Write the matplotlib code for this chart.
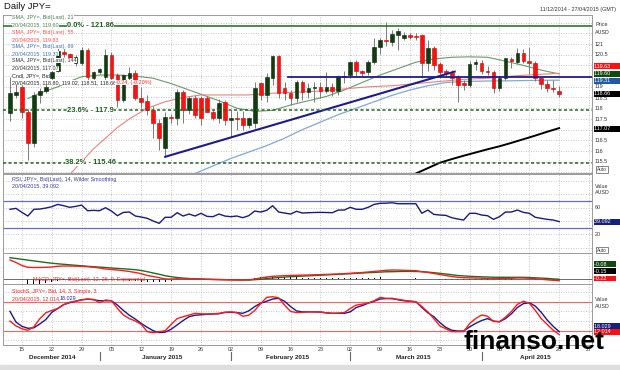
import numpy as np
import matplotlib.pyplot as plt
import matplotlib.transforms as mtransforms

plt.rcParams['font.family'] = ['Liberation Sans', 'DejaVu Sans']

# ---- daily JPY= candles, 11/12/2014 .. 20/04/2015 (weekdays) ----
opens = [117.76, 118.62, 119.00, 117.84, 116.36, 118.62, 118.80, 119.40, 119.75, 120.64,
         120.52, 120.10, 120.10, 120.72, 119.43, 119.71, 119.47, 120.49, 119.55, 118.38,
         119.40, 119.66, 118.46, 118.34, 117.92, 117.30, 116.13, 117.60, 117.55, 118.77,
         117.92, 118.49, 118.49, 118.46, 117.84, 117.53, 118.30, 117.45, 117.55, 117.53,
         117.21, 117.30, 119.16, 118.62, 119.40, 120.45, 118.93, 118.69, 118.46, 119.24,
         118.77, 118.93, 119.01, 118.80, 119.01, 118.80, 119.44, 119.55, 120.14, 119.74,
         119.68, 120.14, 120.88, 121.19, 121.11, 121.40, 121.28, 121.40, 121.38, 121.40,
         120.10, 120.80, 120.05, 119.74, 119.63, 119.44, 119.16, 119.08, 120.05, 120.10,
         119.74, 119.68, 118.93, 119.40, 120.30, 120.14, 120.60, 120.19, 120.10, 119.40,
         119.15, 118.95, 118.80]
highs = [119.47, 119.16, 119.08, 117.95, 118.74, 118.93, 119.32, 119.90, 120.80, 120.80,
         120.60, 120.50, 120.88, 120.80, 119.75, 119.90, 120.77, 120.62, 119.65, 119.60,
         119.94, 119.80, 119.00, 118.60, 118.10, 117.50, 117.80, 117.75, 118.90, 118.85,
         118.55, 118.60, 118.55, 118.55, 117.90, 118.42, 118.40, 117.90, 117.85, 117.85,
         117.60, 119.24, 119.24, 119.65, 120.49, 120.49, 119.24, 118.85, 119.32, 119.32,
         119.16, 119.24, 119.24, 119.70, 119.20, 119.55, 119.75, 120.20, 120.25, 119.78,
         120.25, 121.26, 121.30, 122.03, 121.65, 121.75, 121.55, 121.52, 121.50, 121.45,
         121.20, 120.90, 120.15, 119.85, 119.80, 119.55, 119.30, 120.20, 120.30, 120.25,
         119.95, 119.80, 119.50, 120.35, 120.40, 120.80, 120.75, 120.85, 120.20, 119.50,
         119.30, 119.30, 119.02]
lows = [117.40, 118.46, 117.53, 115.58, 116.20, 118.23, 118.69, 119.25, 119.70, 120.40,
        120.25, 119.95, 120.00, 119.24, 119.20, 119.60, 119.25, 119.15, 118.07, 118.30,
        119.30, 118.40, 118.00, 117.70, 116.60, 116.05, 115.73, 117.30, 117.20, 117.30,
        117.75, 117.55, 117.20, 117.80, 117.45, 117.29, 117.20, 116.67, 117.00, 116.98,
        117.06, 117.06, 118.38, 118.31, 119.08, 118.46, 118.38, 118.15, 118.31, 118.38,
        118.46, 118.31, 118.46, 118.69, 118.55, 118.62, 119.16, 119.40, 119.50, 119.50,
        119.55, 120.05, 120.55, 120.90, 120.90, 120.70, 121.20, 121.25, 121.20, 119.40,
        119.75, 119.80, 119.40, 119.50, 119.08, 118.27, 118.85, 119.00, 119.80, 119.60,
        119.55, 118.69, 118.80, 119.30, 119.90, 120.05, 120.10, 119.60, 119.25, 118.90,
        118.75, 118.75, 118.51]
closes = [118.69, 118.77, 117.84, 116.36, 118.62, 118.80, 119.01, 119.71, 120.67, 120.52,
          120.36, 120.41, 120.72, 119.47, 119.68, 119.82, 120.49, 119.43, 118.38, 119.55,
          119.63, 118.49, 118.27, 117.92, 117.30, 116.60, 117.60, 117.55, 118.77, 117.92,
          118.46, 117.68, 117.53, 117.84, 117.53, 118.23, 117.45, 117.53, 117.50, 117.21,
          117.53, 118.96, 118.62, 119.44, 120.45, 118.69, 118.69, 118.46, 119.24, 118.77,
          118.93, 119.01, 118.80, 119.01, 118.80, 119.44, 119.52, 120.14, 119.74, 119.63,
          120.14, 120.88, 121.19, 121.15, 121.45, 121.62, 121.42, 121.35, 121.33, 120.10,
          120.80, 120.03, 119.70, 119.63, 119.40, 119.10, 119.08, 120.05, 120.14, 119.74,
          119.68, 118.93, 119.40, 120.33, 120.19, 120.60, 120.19, 120.10, 119.40, 119.12,
          118.93, 118.88, 118.66]

# moving averages (day index, value)
sma21_x = [3, 5, 8, 10, 12, 15, 18, 21, 24, 27, 30, 32, 35, 38, 41, 44, 47, 50, 53, 56,
           59, 62, 65, 68, 71, 74, 77, 80, 83, 86, 89, 92]
sma21_y = [118.45, 118.70, 119.00, 119.25, 119.47, 119.55, 119.55, 119.50, 119.40, 119.15,
           118.85, 118.65, 118.35, 118.00, 117.85, 117.90, 118.15, 118.35, 118.55, 118.85,
           119.20, 119.55, 119.85, 120.15, 120.30, 120.38, 120.40, 120.38, 120.20, 120.00,
           119.78, 119.60]
sma55_x = [10, 12, 14, 16, 18, 20, 23, 26, 29, 32, 36, 40, 44, 48, 52, 56, 60, 64, 68, 72,
           76, 80, 84, 88, 92]
sma55_y = [114.90, 115.50, 116.10, 116.60, 117.10, 117.50, 118.00, 118.30, 118.50, 118.62,
           118.62, 118.62, 118.70, 118.75, 118.80, 118.90, 119.00, 119.05, 119.15, 119.25,
           119.35, 119.40, 119.50, 119.57, 119.63]
sma89_x = [31, 34, 37, 40, 43, 46, 49, 52, 55, 58, 61, 64, 67, 70, 73, 76, 80, 84, 88, 92]
sma89_y = [114.95, 115.30, 115.65, 115.95, 116.25, 116.60, 117.00, 117.35, 117.70, 118.00,
           118.30, 118.60, 118.85, 119.05, 119.20, 119.25, 119.27, 119.28, 119.30, 119.31]
sma144_x = [68, 70, 72, 74, 76, 78, 80, 82, 84, 86, 88, 90, 92]
sma144_y = [114.95, 115.20, 115.45, 115.62, 115.78, 115.93, 116.08, 116.22, 116.38, 116.55,
            116.72, 116.90, 117.07]

trend_x = [26, 74.5]
trend_y = [115.73, 119.71]
hline_start, hline_level = 46.5, 119.47
fib_levels = [121.86, 117.9, 115.46]
fib_names = ['0.0%', '23.6%', '38.2%']

rsi = [57.6, 59, 53, 47.5, 57.6, 58, 59.5, 61.5, 65, 63, 60.6, 62, 64, 55.5, 56, 55.5, 60, 55,
       48, 53, 53.5, 47.5, 46, 44, 40, 36.5, 45.6, 45.6, 52.5, 47.5, 50.5, 47.5, 51.6, 47,
       46.5, 50.5, 47.5, 46.5, 47.5, 45, 48, 55, 53.5, 56, 63, 53.5, 52, 50.5, 54.6, 52, 52.5,
       52.8, 53, 52.8, 52.5, 56.5, 56.5, 60.6, 57.6, 57.6, 60.6, 65, 66.6, 66.8, 67.5, 66, 66,
       66, 66, 51.6, 56.5, 50, 49, 48.5, 45, 43, 41.5, 51.6, 51.6, 49, 48, 42.5, 46.5, 53.5,
       53.5, 56.5, 53, 51.6, 45.6, 44, 42.5, 41.5, 39.092]

macd = [1.85, 1.6, 1.3, 1.12, 1.1, 1.1, 1.12, 1.15, 1.22, 1.25, 1.25, 1.23, 1.22, 1.18, 1.12,
        1.05, 0.95, 0.9, 0.85, 0.78, 0.7, 0.6, 0.48, 0.3, 0.2, 0.08, -0.05, -0.05, -0.03, -0.05,
        -0.05, -0.05, -0.06, -0.08, -0.1, -0.12, -0.13, -0.14, -0.15, -0.15, -0.15, -0.05, 0.05,
        0.15, 0.22, 0.25, 0.28, 0.3, 0.32, 0.34, 0.35, 0.37, 0.39, 0.41, 0.43, 0.45, 0.48, 0.52,
        0.56, 0.6, 0.65, 0.7, 0.76, 0.82, 0.85, 0.84, 0.82, 0.8, 0.78, 0.68, 0.6, 0.5, 0.4, 0.3,
        0.2, 0.12, 0.08, 0.06, 0.05, 0.03, 0.0, -0.02, -0.02, 0.0, 0.02, 0.05, 0.05, 0.02, -0.03,
        -0.08, -0.13, -0.18, -0.22]
signal = [2.08, 2.0, 1.92, 1.84, 1.76, 1.68, 1.6, 1.53, 1.47, 1.42, 1.37, 1.32, 1.27, 1.22,
          1.18, 1.14, 1.1, 1.05, 1.01, 0.97, 0.93, 0.88, 0.8, 0.68, 0.55, 0.42, 0.28, 0.18, 0.1,
          0.04, 0.0, -0.03, -0.05, -0.07, -0.09, -0.1, -0.12, -0.13, -0.14, -0.15, -0.15, -0.12,
          -0.08, 0.0, 0.05, 0.1, 0.14, 0.18, 0.21, 0.24, 0.27, 0.3, 0.33, 0.36, 0.39, 0.42, 0.45,
          0.48, 0.52, 0.55, 0.58, 0.61, 0.64, 0.67, 0.68, 0.7, 0.71, 0.71, 0.7, 0.68, 0.64, 0.58,
          0.52, 0.45, 0.38, 0.3, 0.26, 0.22, 0.19, 0.17, 0.15, 0.13, 0.12, 0.12, 0.12, 0.12, 0.12,
          0.1, 0.07, 0.04, 0.01, -0.04, -0.08]

stoch_k = [40, 30, 24, 21, 28, 45, 57, 62, 66, 74, 79, 81, 84, 85, 85, 78, 83.6, 82, 66, 52.5,
           45, 40, 33, 18, 16, 18, 20, 33, 45, 49, 52.5, 56, 55, 54.6, 55, 56, 58, 59, 57.5, 50,
           52, 62, 76, 89, 90.4, 88, 73, 60, 57.5, 58, 59.3, 59, 58.6, 57, 56, 56.5, 57.5, 66,
           73, 75, 77, 82, 89, 87, 86, 85, 83, 81, 80, 70, 59, 45, 30, 24, 18, 18, 18, 35, 45,
           52.5, 50, 39, 38.6, 48, 60, 74.5, 81, 77, 62, 45, 33, 21, 12.014]
stoch_d = [60, 38, 29, 25, 26, 34, 43, 58, 66, 74, 78, 81, 84, 85.6, 84, 82, 82, 82, 73, 62,
           52, 44, 35, 27, 20, 16, 17, 23, 32, 41, 49, 52, 53, 54, 54.6, 55, 58, 58, 57.5, 56,
           61, 70, 77, 81, 85.6, 87, 81, 70, 61, 59, 59, 59, 58.6, 57, 56, 56, 56, 59, 68, 72,
           77, 81, 85.6, 86.5, 87, 84, 82, 81, 80, 68, 57, 49, 37, 27, 21, 19.3, 19.3, 28, 35, 41,
           45, 40, 38.6, 45, 55, 68, 76, 78, 71, 58, 42, 29, 18.029]

week_labels = ['15', '22', '29', '05', '12', '19', '26', '02', '09', '16', '23', '02', '09',
               '16', '23', '30', '06', '13', '20', '27']
month_names = ['December 2014', 'January 2015', 'February 2015', 'March 2015', 'April 2015']
month_starts = [0, 15, 37, 57, 79, 98]

W, H = 620, 370
fig = plt.figure(figsize=(6.2, 3.7), dpi=100)
GRID = dict(color='#b4b4b4', ls=(0, (1, 2)), lw=0.6)
FS = 3.9


def fy(y):
    return 1 - y / H


def panel(y0, y1, ylim, yticks):
    ax = fig.add_axes([3 / W, fy(y1), 589 / W, (y1 - y0) / H])
    ax.set_xlim(-1.17, 97.5)
    ax.set_ylim(*ylim)
    ax.set_xticks([2 + 5 * k for k in range(len(week_labels))])
    ax.set_yticks(yticks)
    ax.grid(True, **GRID)
    ax.tick_params(length=0, labelleft=False, labelbottom=False)
    for s in ax.spines.values():
        s.set_color('#9a9a9a')
        s.set_linewidth(0.7)
    return ax


idx = np.arange(len(closes))
o, h, l, c = (np.array(v) for v in (opens, highs, lows, closes))

# ---- price panel ----
ax = panel(15, 173, (114.972, 122.355), np.arange(115, 122.5, 0.5))
ax.vlines(idx, l, h, color='#7a7a7a', lw=0.7, zorder=3)
up = c >= o
ax.bar(idx, np.maximum(np.abs(c - o), 0.03), bottom=np.minimum(o, c), width=0.62,
       color=np.where(up, '#0f3d0f', '#ff1010'), edgecolor=np.where(up, '#0a260a', '#d00000'),
       lw=0.4, zorder=4)
ax.plot(sma21_x, sma21_y, color='#6a9a6a', lw=0.8, zorder=2)
ax.plot(sma55_x, sma55_y, color='#f08080', lw=0.8, zorder=2)
ax.plot(sma89_x, sma89_y, color='#80a8d8', lw=0.9, zorder=2)
ax.plot(sma144_x, sma144_y, color='black', lw=1.4, zorder=2)
ax.plot(trend_x, trend_y, color='#1c1c8c', lw=1.5, zorder=5)
ax.plot([hline_start, 97.5], [hline_level, hline_level], color='#1c1c8c', lw=1.3, zorder=5)
for lev, name in zip(fib_levels, fib_names):
    ls = '-' if name == '0.0%' else (0, (2, 1.6))
    ax.axhline(lev, color='#1d6b1d', lw=1.1, ls=ls, zorder=5)
    ax.text(13.5, lev, f'{name} - {lev}', color='#1d5e1d', fontsize=5.4, fontweight='bold',
            ha='center', va='center', zorder=6,
            bbox=dict(boxstyle='square,pad=0.05', fc='white', ec='none'))

legend = [('SMA, JPY=, Bid(Last), 21', '#4d7a4d'), (f'20/04/2015, {sma21_y[-1]:.2f}', '#4d7a4d'),
          ('SMA, JPY=, Bid(Last), 55', '#ff4a4a'), (f'20/04/2015, {sma55_y[-1]:.2f}', '#ff4a4a'),
          ('SMA, JPY=, Bid(Last), 89', '#3d6fb0'), (f'20/04/2015, {sma89_y[-1]:.2f}', '#3d6fb0'),
          ('SMA, JPY=, Bid(Last), 144', '#333333'), (f'20/04/2015, {sma144_y[-1]:.2f}', '#333333'),
          ('Cndl, JPY=, Bid', '#222222'),
          (f'20/04/2015, {opens[-1]:.2f}, {highs[-1]:.2f}, {lows[-1]:.2f}, {closes[-1]:.2f},', '#222222')]
for k, (s, col) in enumerate(legend):
    fig.text(12.3 / W, fy(17.7 + 7.2 * k), s, color=col, fontsize=FS, va='center', zorder=7,
             bbox=dict(boxstyle='square,pad=0', fc='white', ec='none'))
fig.text(115 / W, fy(17.7 + 7.2 * 9), '-0.24, (-0.20%)', color='#ff2020', fontsize=FS,
         va='center', zorder=7, bbox=dict(boxstyle='square,pad=0', fc='white', ec='none'))

# ---- RSI panel ----
ar = panel(174, 253, (-8.1, 110.7), [0, 20, 40, 60, 80, 100])
ar.plot(idx, rsi, color='#1a1a80', lw=1.0)
ar.axhline(70, color='#6a6ac8', lw=0.9)
ar.axhline(30, color='#6a6ac8', lw=0.9)
fig.text(12.3 / W, fy(179.5), 'RSI, JPY=, Bid(Last), 14, Wilder Smoothing', color='#3a3a9a', fontsize=FS, va='center')
fig.text(12.3 / W, fy(185.8), f'20/04/2015, {rsi[-1]:.3f}', color='#3a3a9a', fontsize=FS, va='center')

# ---- MACD panel ----
am = panel(253, 284, (-0.55, 2.55), [])
hist = np.array(macd) - np.array(signal)
am.bar(idx, hist, width=0.14, color='black', zorder=2)
am.axhline(0, color='#555555', lw=0.6)
am.plot(idx, signal, color='#1e6e1e', lw=1.0, zorder=3)
am.plot(idx, macd, color='#ff1a1a', lw=1.0, zorder=3)
am.text(32.7 / W, fy(280), 'MACD, JPY=, Bid(Last), 12, 26, 9, Exponential', color='#ff2020',
        fontsize=FS, va='center', transform=fig.transFigure, zorder=6)
am.text(32.7 / W, fy(286.3), f'20/04/2015, {macd[-1]:.2f}, {signal[-1]:.2f}', color='#ff2020',
        fontsize=FS, va='center', transform=fig.transFigure, clip_on=True, zorder=6)

# ---- Stochastic panel ----
ast = panel(284, 345, (-9.6, 116.7), [0, 20, 40, 60, 80, 100])
ast.axhline(80, color='#ff6060', lw=0.8)
ast.axhline(20, color='#ff6060', lw=0.8)
ast.plot(idx, stoch_d, color='#1a1a8c', lw=1.0)
ast.plot(idx, stoch_k, color='#ff1a1a', lw=1.0)
fig.text(12.3 / W, fy(291.7), 'StochS, JPY=, Bid, 14, 3, Simple, 3', color='#ff2020', fontsize=FS, va='center')
fig.text(12.3 / W, fy(299), f'20/04/2015, {stoch_k[-1]:.3f},', color='#ff2020', fontsize=FS, va='center')
fig.text(60 / W, fy(299), f'{stoch_d[-1]:.3f}', color='#2020a0', fontsize=FS, va='center')

# ---- date axis ----
tr = mtransforms.blended_transform_factory(ast.transData, fig.transFigure)
for k, lab in enumerate(week_labels):
    ast.text(2 + 5 * k, fy(349.5), lab, transform=tr, fontsize=FS, ha='center', va='center', color='#333333')
for k, name in enumerate(month_names):
    mid = (month_starts[k] + month_starts[k + 1] - 1) / 2
    ast.text(mid, fy(357.5), name, transform=tr, fontsize=4.6, fontweight='bold', ha='center',
             va='center', color='#222222')
for s in month_starts[1:-1]:
    ast.plot([s, s], [fy(352), fy(360)], transform=tr, color='#666666', lw=0.8, clip_on=False)

# ---- right-hand labels ----
plain = [(25, 'Price'), (32.3, 'AUSD'), (44, '121'), (54.3, '120.5'), (86.7, '119'), (98.3, '118.5'),
         (109, '118'), (119.3, '117.5'), (140, '116.5'), (151, '116'), (161.7, '115.5'),
         (186, 'Value'), (193, 'AUSD'), (207.7, '60'), (234.3, '20'),
         (299.3, 'Value'), (306, 'AUSD')]
for y, s in plain:
    fig.text(595 / W, fy(y), s, fontsize=FS, va='center', color='#333333', zorder=2)
boxes = [(66.3, '119.63', '#ff1010'), (73.6, '119.60', '#0f4a0f'), (80.9, '119.31', '#1f5aa0'),
         (93.6, '118.66', 'black'), (129, '117.07', 'black'), (221.7, '39.092', '#16207e'),
         (264.3, '-0.08', '#0f4a0f'), (271.4, '-0.15', 'black'), (278.5, '-0.22', '#ff1010'),
         (326, '18.029', '#16207e'), (331.8, '12.014', '#ff1010')]
for y, s, col in boxes:
    fig.text(594.5 / W, fy(y), s + '      ', fontsize=FS, va='center', color='white', zorder=4,
             bbox=dict(boxstyle='square,pad=0.08', fc=col, ec='none'))
for y in (169.7, 250):
    fig.text(597 / W, fy(y), 'Auto', fontsize=3.4, va='center', color='#333333', zorder=4,
             bbox=dict(boxstyle='square,pad=0.15', fc='white', ec='#555555', lw=0.5))

fig.text(4 / W, fy(6.5), 'Daily JPY=', fontsize=6.8, va='center', color='#111111')
fig.text(616 / W, fy(10), '11/12/2014 - 27/04/2015 (GMT)', fontsize=FS, va='center', ha='right', color='#333333')
fig.text(464 / W, fy(349), 'finanso.net', fontsize=19, fontweight='bold', va='baseline',
         color='black', zorder=10)
fig.add_artist(plt.Rectangle((0, 0), 1, 5 / H, transform=fig.transFigure, color='#dedede', zorder=0))

fig.savefig('out.png', dpi=100)
